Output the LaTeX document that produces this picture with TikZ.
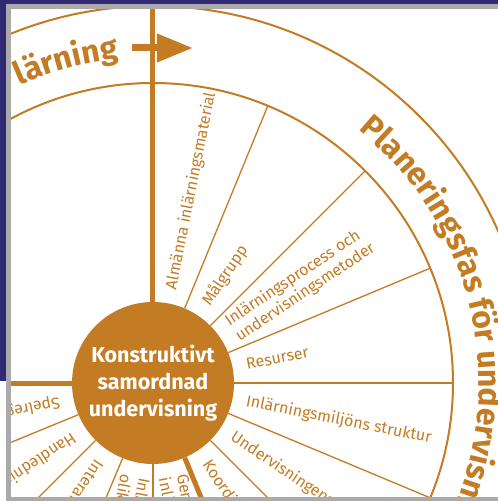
\documentclass[tikz,border=0pt]{standalone}
\usepackage{fontspec}
\setmainfont{Fira Sans}
\usetikzlibrary{arrows.meta,decorations.text}

\definecolor{wheel}{RGB}{196,124,36}
\definecolor{navy}{RGB}{49,41,116}
\definecolor{rim}{RGB}{170,170,170}

\tikzset{
  spoke/.style={wheel, line width=1.3pt},
  phase/.style={wheel, line width=5pt},
  lbl/.style={text=wheel, font=\fontsize{16}{18.5}\selectfont, anchor=west,
    inner sep=0pt, align=left}
}

\begin{document}
\begin{tikzpicture}[x=1pt,y=1pt]
  \useasboundingbox (-153,-118) rectangle (345,383);
  \fill[white] (-153,-118) rectangle (345,383);

  \begin{scope}
    \clip (-142,-114) rectangle (345,374);

    \draw[wheel, line width=2pt] (0,0) circle [radius=300];
    \draw[wheel, line width=2pt] (0,0) circle [radius=377];

    \node[circle, fill=wheel, minimum size=162pt, inner sep=0pt, text=white,
      align=center, font=\bfseries\fontsize{21.5}{27}\selectfont]
      (core) at (0,0) {Konstruktivt\\samordnad\\undervisning};

    % thin spokes of the inner ring
    \foreach \a in {67.5,45,22.5,0,-22.5,-45,-90,-112.5,-135,-157.5}
      \draw[spoke] (core.\a) -- (\a:300);

    % thick spokes between the phases
    \foreach \a in {90,180,-67.5}
      \draw[phase] (core.\a) -- (\a:377);

    \foreach \a/\t [count=\i] in {
        78.75/Almänna inlärningsmaterial,
        56.25/Målgrupp,
        33.75/{Inlärningsprocess och\\undervisningsmetoder},
        11.25/Resurser,
        -11.25/Inlärningsmiljöns struktur,
        -33.75/Undervisningens,
        -56.25/Koordinering,
        -78.75/{Gemensamma\\inlärningsmål},
        -101.25/{Inlärning i\\olika miljöer},
        -123.75/Interaktion,
        -146.25/Handledning,
        -168.75/Spelregler}
      \node[lbl, rotate=\a] (seg\i) at (\a:95) {\t};

    % phase names along the outer ring
    \path[decorate, decoration={text along path, text color=wheel,
        text={|\bfseries\fontsize{32}{32}\selectfont|Planeringsfas för undervisning}}]
      (51:326) arc [start angle=51, end angle=-100, radius=326];
    \path[decorate, decoration={text along path, text color=wheel, text align=right,
        text={|\bfseries\fontsize{32}{32}\selectfont|lärning}}]
      (140:326) arc [start angle=140, end angle=96, radius=326];

    \coordinate (arrS) at (-21,335);
    \coordinate (arrE) at (40,335);
    \draw[wheel, line width=7pt, -{Triangle[length=36pt,width=27pt]}] (arrS) -- (arrE);
  \end{scope}

  % window frame
  \fill[navy] (-153,383) rectangle (345,379);
  \fill[rim] (-147,379) rectangle (345,374);
  \fill[navy] (-153,379) rectangle (-147,2);
  \fill[rim] (-147,374) rectangle (-142,-118);
  \fill[rim] (-142,-114) rectangle (345,-118);
\end{tikzpicture}
\end{document}
